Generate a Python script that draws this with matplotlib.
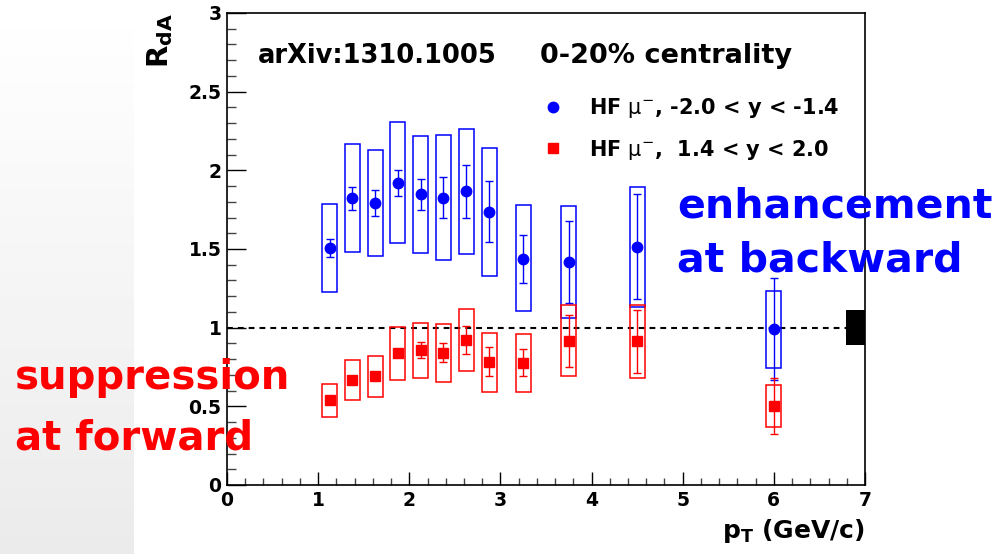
import numpy as np
import matplotlib
matplotlib.use("Agg")
from matplotlib import pyplot as plt
from matplotlib.lines import Line2D

# pT bin centres (GeV/c)
pt = [1.125, 1.375, 1.625, 1.875, 2.125, 2.375, 2.625, 2.875, 3.25, 3.75, 4.5, 6.0]

# backward, -2.0 < y < -1.4
rda_bwd = [1.505, 1.823, 1.793, 1.922, 1.848, 1.827, 1.867, 1.738, 1.439, 1.418, 1.515, 0.992]
stat_bwd = [0.057, 0.074, 0.082, 0.082, 0.10, 0.128, 0.17, 0.194, 0.153, 0.263, 0.332, 0.326]
sys_lo_bwd = [1.225, 1.479, 1.456, 1.538, 1.477, 1.428, 1.468, 1.331, 1.104, 1.06, 1.134, 0.744]
sys_hi_bwd = [1.785, 2.168, 2.132, 2.308, 2.219, 2.225, 2.261, 2.145, 1.778, 1.774, 1.894, 1.235]

# forward, 1.4 < y < 2.0
rda_fwd = [0.540, 0.669, 0.691, 0.837, 0.856, 0.841, 0.920, 0.782, 0.776, 0.915, 0.913, 0.502]
stat_fwd = [0.012, 0.015, 0.018, 0.022, 0.05, 0.06, 0.088, 0.092, 0.086, 0.168, 0.20, 0.18]
sys_lo_fwd = [0.434, 0.540, 0.559, 0.667, 0.682, 0.655, 0.725, 0.593, 0.593, 0.691, 0.680, 0.371]
sys_hi_fwd = [0.640, 0.797, 0.822, 1.007, 1.028, 1.024, 1.117, 0.968, 0.958, 1.142, 1.142, 0.634]

# global normalisation uncertainty
norm_lo, norm_hi = 0.89, 1.11

BLUE = '#0000ff'
RED = '#ff0000'
W, H = 1000, 554

fig = plt.figure(figsize=(10, 5.54), dpi=100)

# faint slide background on the left
bg = fig.add_axes([0, 0, 0.134, 1])
bg.imshow(np.linspace(1.0, 0.92, 100).reshape(-1, 1), cmap='gray', vmin=0, vmax=1,
          aspect='auto', extent=[0, 1, 0, 1], origin='upper')
bg.set_axis_off()

ax = fig.add_axes([227 / W, 1 - 485 / H, (865 - 227) / W, (485 - 13) / H])
ax.set_xlim(0, 7)
ax.set_ylim(0, 3)

ax.axhline(1.0, color='black', lw=1.5, dashes=(2.8, 2.4), zorder=1)

bw = 0.165
h_bwd = [hi - lo for lo, hi in zip(sys_lo_bwd, sys_hi_bwd)]
h_fwd = [hi - lo for lo, hi in zip(sys_lo_fwd, sys_hi_fwd)]
ax.bar(pt, h_bwd, bottom=sys_lo_bwd, width=bw, fill=False, edgecolor=BLUE, lw=1.1, zorder=2)
ax.bar(pt, h_fwd, bottom=sys_lo_fwd, width=bw, fill=False, edgecolor=RED, lw=1.1, zorder=2)
ax.bar(6.895, norm_hi - norm_lo, bottom=norm_lo, width=0.21, color='black', zorder=3)

ax.errorbar(pt, rda_bwd, yerr=stat_bwd, fmt='o', color=BLUE, ms=7.5, elinewidth=1.0,
            capsize=3, capthick=1.0, zorder=4)
ax.errorbar(pt, rda_fwd, yerr=stat_fwd, fmt='s', color=RED, ms=7, elinewidth=1.0,
            capsize=3, capthick=1.0, zorder=4)

tickfont = dict(family='DejaVu Sans', weight='bold', size=13.5)
ax.set_xticks(range(0, 8))
ax.set_xticklabels([str(i) for i in range(0, 8)], **tickfont)
ax.set_yticks([0, 0.5, 1, 1.5, 2, 2.5, 3])
ax.set_yticklabels(['0', '0.5', '1', '1.5', '2', '2.5', '3'], **tickfont)
ax.set_xticks(np.arange(0, 7.01, 0.2), minor=True)
ax.set_yticks(np.arange(0, 3.01, 0.1), minor=True)
ax.tick_params(axis='x', which='major', direction='in', length=9.5, width=1, pad=4)
ax.tick_params(axis='x', which='minor', direction='in', length=5, width=1, color='#444444')
ax.tick_params(axis='y', which='major', direction='in', length=13.5, width=1, pad=4)
ax.tick_params(axis='y', which='minor', direction='in', length=6.5, width=1, color='#444444')
for s in ax.spines.values():
    s.set_linewidth(1.2)

ax.set_xlabel(r'$\mathbf{p_{T}}$ (GeV/c)', loc='right', fontsize=18, fontweight='bold',
              family='DejaVu Sans')
ax.xaxis.set_label_coords(1.0, -0.068)
ax.set_ylabel(r'$\mathbf{R_{dA}}$', loc='top', fontsize=21)
ax.yaxis.set_label_coords(-0.082, 1.0)

handles = [Line2D([], [], ls='none', marker='o', color=BLUE, ms=7.5),
           Line2D([], [], ls='none', marker='s', color=RED, ms=7)]
labels = [r'HF $\mathrm{\mu}^{\mathrm{-}}$, -2.0 < y < -1.4',
          r'HF $\mathrm{\mu}^{\mathrm{-}}$,  1.4 < y < 2.0']
leg = ax.legend(handles, labels, loc='upper left', bbox_to_anchor=(543 / W, 1 - 96 / H),
                bbox_transform=fig.transFigure, frameon=False, borderpad=0, borderaxespad=0,
                handlelength=1.0, handletextpad=1.2, labelspacing=0.85,
                prop=dict(family='DejaVu Sans', weight='bold', size=15))

def ftext(x, y, s, **kw):
    fig.text(x / W, 1 - y / H, s, va='baseline', ha='left', family='DejaVu Sans',
             weight='bold', **kw)

ftext(258, 63, 'arXiv:1310.1005', size=18.5)
ftext(540, 63, '0-20% centrality', size=19.5)
ftext(677, 217, 'enhancement', size=29.5, color=BLUE)
ftext(677, 272, 'at backward', size=29.5, color=BLUE)
ftext(15, 389, 'suppression', size=29, color=RED)
ftext(15, 450, 'at forward', size=29, color=RED)

plt.savefig('out.png', dpi=100)
